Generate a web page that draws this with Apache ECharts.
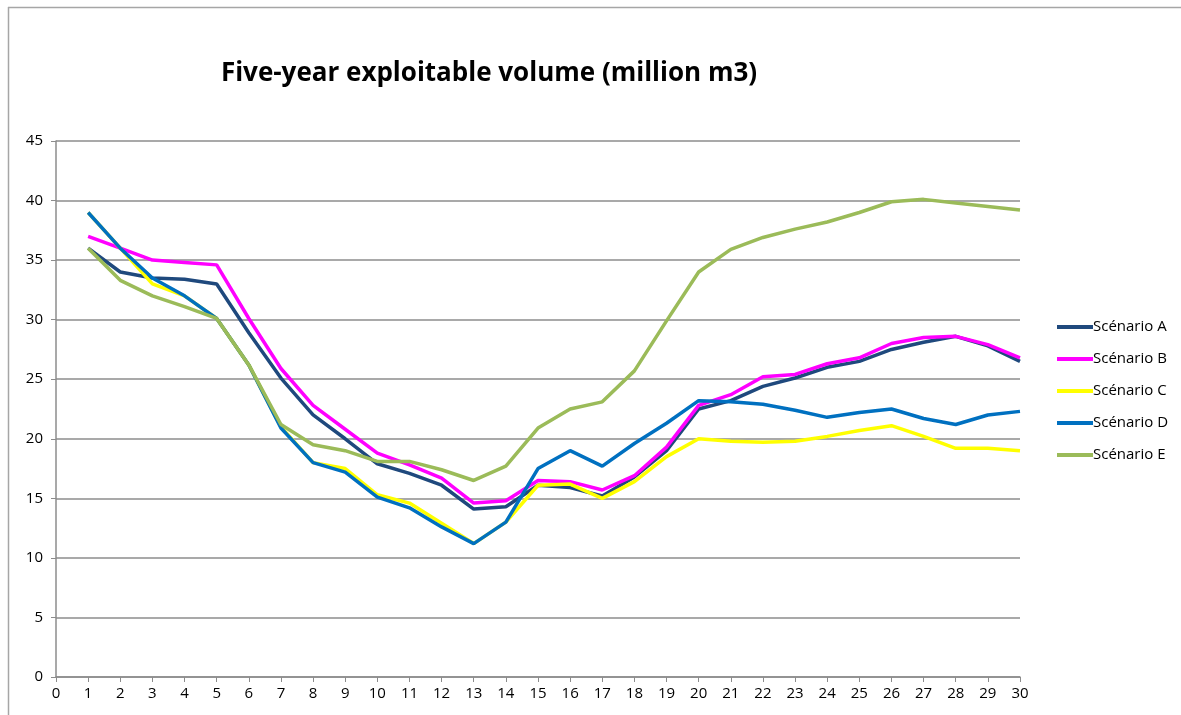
<!DOCTYPE html>
<html lang="en">
<head>
    <meta charset="UTF-8"/>
    <style>
        html, body { margin: 0; padding: 0; background: #fff; }
    </style>
</head>
<body>

<div id="main" style="width: 1181px;height:715px;"></div>

<script src="https://cdn.jsdelivr.net/npm/echarts@6/dist/echarts.min.js"></script>
<script type="text/javascript">

    // years 1..30
    var years = [];
    for (var i = 1; i <= 30; i++) years.push(i);

    var scenarioA = [36, 34, 33.5, 33.4, 33, 28.9, 25.1, 22, 20, 17.9, 17.1, 16.1, 14.1, 14.3, 16.1, 15.9, 15.2, 16.8, 19, 22.5, 23.2, 24.4, 25.1, 26, 26.5, 27.5, 28.1, 28.6, 27.8, 26.5];
    var scenarioB = [37, 36, 35, 34.8, 34.6, 30.1, 25.9, 22.8, 20.8, 18.8, 17.8, 16.7, 14.6, 14.8, 16.5, 16.4, 15.7, 16.9, 19.3, 22.8, 23.7, 25.2, 25.4, 26.3, 26.8, 28, 28.5, 28.6, 27.9, 26.8];
    var scenarioC = [39, 36, 33, 32, 30.1, 26.2, 21, 18, 17.5, 15.3, 14.6, 12.9, 11.2, 13, 16.1, 16.2, 15, 16.4, 18.5, 20, 19.8, 19.7, 19.8, 20.2, 20.7, 21.1, 20.2, 19.2, 19.2, 19];
    var scenarioD = [39, 36, 33.5, 32, 30.1, 26.2, 20.9, 18, 17.2, 15.1, 14.2, 12.6, 11.2, 13, 17.5, 19, 17.7, 19.6, 21.3, 23.2, 23.1, 22.9, 22.4, 21.8, 22.2, 22.5, 21.7, 21.2, 22, 22.3];
    var scenarioE = [36, 33.3, 32, 31.1, 30.1, 26.2, 21.2, 19.5, 19, 18.1, 18.1, 17.4, 16.5, 17.7, 20.9, 22.5, 23.1, 25.7, 29.9, 34, 35.9, 36.9, 37.6, 38.2, 39, 39.9, 40.1, 39.8, 39.5, 39.2];

    var names = ['Scénario A', 'Scénario B', 'Scénario C', 'Scénario D', 'Scénario E'];
    var colors = ['#1F497D', '#FF00FF', '#FFFF00', '#0070C0', '#9BBB59'];
    var values = [scenarioA, scenarioB, scenarioC, scenarioD, scenarioE];

    var font = '"Open Sans", sans-serif';

    function pairs(arr) {
        return arr.map(function (v, i) { return [years[i], v]; });
    }

    var myChart = echarts.init(document.getElementById('main'));

    var series = [];
    for (var k = 0; k < names.length; k++) {
        series.push({
            name: names[k],
            type: 'line',
            data: pairs(values[k]),
            showSymbol: false,
            symbol: 'none',
            lineStyle: { color: colors[k], width: 3.5 },
            itemStyle: { color: colors[k] },
            animation: false
        });
    }

    var options = {
        backgroundColor: '#fff',
        animation: false,
        title: {
            text: 'Five-year exploitable volume (million m3)',
            left: 484,
            top: 56,
            textAlign: 'center',
            textStyle: { fontFamily: font, fontSize: 26, fontWeight: 'bold', color: '#000' }
        },
        legend: {
            orient: 'vertical',
            left: 1052,
            top: 314,
            itemWidth: 36,
            itemHeight: 4,
            itemGap: 16,
            icon: 'rect',
            textStyle: { fontFamily: font, fontSize: 15, lineHeight: 16, color: '#000', padding: [0, 0, 0, -5] },
            data: names
        },
        graphic: [
            { type: 'line', shape: { x1: 8, y1: 7.5, x2: 1181, y2: 7.5 }, style: { stroke: '#a6a6a6', lineWidth: 1.5 } },
            { type: 'line', shape: { x1: 8.5, y1: 7, x2: 8.5, y2: 715 }, style: { stroke: '#a6a6a6', lineWidth: 1.5 } }
        ],
        grid: { left: 56, right: 161, top: 141, bottom: 38, containLabel: false },
        xAxis: {
            type: 'value',
            min: 0, max: 30, interval: 1,
            axisLine: { lineStyle: { color: '#8c8c8c', width: 1.5 } },
            axisTick: { show: true, inside: false, length: 5, lineStyle: { color: '#8c8c8c' } },
            axisLabel: { fontFamily: font, fontSize: 15, color: '#000', margin: 9 },
            splitLine: { show: false }
        },
        yAxis: {
            type: 'value',
            min: 0, max: 45, interval: 5,
            axisLine: { show: true, lineStyle: { color: '#8c8c8c', width: 1.5 } },
            axisTick: { show: true, length: 5, lineStyle: { color: '#8c8c8c' } },
            axisLabel: { fontFamily: font, fontSize: 15, color: '#000', margin: 13 },
            splitLine: { show: true, lineStyle: { color: '#8c8c8c', width: 1.5 } }
        },
        series: series
    };

    myChart.setOption(options);

</script>

</body>
</html>
